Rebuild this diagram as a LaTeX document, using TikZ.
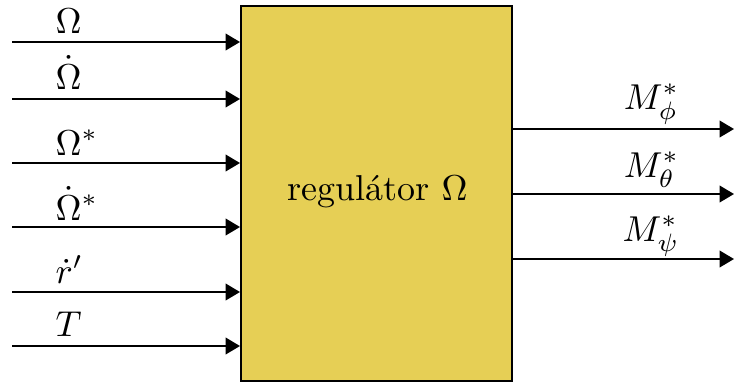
\documentclass[tikz,border=0pt]{standalone}
\usetikzlibrary{arrows.meta}
\definecolor{boxyellow}{HTML}{E6CF55}
\begin{document}
\begin{tikzpicture}[x=0.278pt,y=-0.278pt,
  sig/.style={line width=0.6pt,-{Triangle[length=4pt,width=4.6pt]}},
  inlab/.style={anchor=base west,inner sep=0pt},
  outlab/.style={anchor=base east,inner sep=0pt},
  blk/.style={draw=black,line width=0.6pt,fill=boxyellow,inner sep=0pt}]
\useasboundingbox (0,0) rectangle (734,382);
\node[blk,minimum width=271*0.278pt,minimum height=375*0.278pt,anchor=north west] (reg) at (240,5) {};
\node (regtext) at (377.5,192) {regulátor $\Omega$};
% inputs
\foreach \n/\y in {i1/42,i2/99,i3/163,i4/227,i5/292,i6/346}{
  \coordinate (\n s) at (12,\y);
  \coordinate (\n e) at (240,\y);
  \draw[sig] (\n s) -- (\n e);
}
\node[inlab] (l1) at (55,33) {$\Omega$};
\node[inlab] (l2) at (55,89) {$\dot\Omega$};
\node[inlab] (l3) at (55,155) {$\Omega^*$};
\node[inlab] (l4) at (55,220) {$\dot\Omega^*$};
\node[inlab] (l5) at (55,283) {$\dot r'$};
\node[inlab] (l6) at (55,336) {$T$};
% outputs
\foreach \n/\y in {o1/129,o2/194,o3/259}{
  \coordinate (\n s) at (511,\y);
  \coordinate (\n e) at (734,\y);
  \draw[sig] (\n s) -- (\n e);
}
\node[outlab] (m1) at (680,109) {$M^*_\phi$};
\node[outlab] (m2) at (680,177) {$M^*_\theta$};
\node[outlab] (m3) at (680,241) {$M^*_\psi$};
\end{tikzpicture}
\end{document}
